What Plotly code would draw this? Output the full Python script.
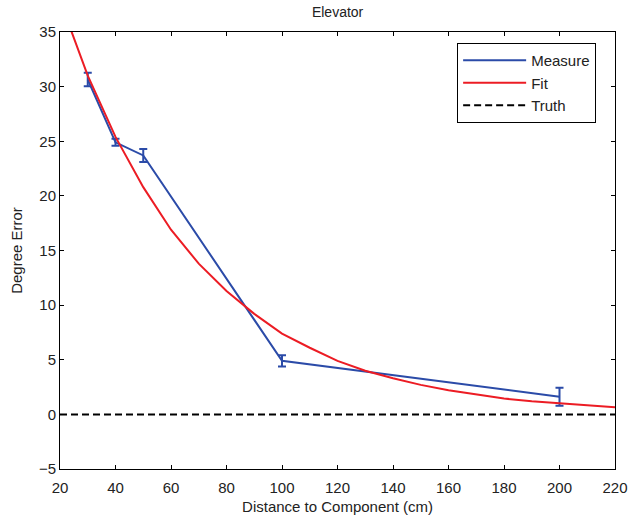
import plotly.graph_objects as go

# Measured angular error at each distance (cm), with error-bar half widths
measure_x = [30, 40, 50, 100, 200]
measure_y = [30.65, 24.9, 23.7, 4.9, 1.62]
measure_err = [0.62, 0.32, 0.6, 0.52, 0.82]

# Fitted decay curve sampled every 10 cm
fit_x = [20, 30, 40, 50, 60, 70, 80, 90, 100, 110, 120, 130, 140, 150,
         160, 170, 180, 190, 200, 210, 220]
fit_y = [37.9, 31.0, 25.4, 20.8, 16.9, 13.8, 11.3, 9.2, 7.4, 6.1, 4.9,
         4.0, 3.3, 2.7, 2.2, 1.8, 1.45, 1.2, 1.0, 0.8, 0.65]

# Ground truth (zero error)
truth_x = [20, 220]
truth_y = [0, 0]

BLUE = "#2B4BA8"
RED = "#EC1C24"
FONT = "Liberation Sans, Arial, sans-serif"
TXT = "#222"

fig = go.Figure()
fig.add_trace(go.Scatter(
    x=measure_x, y=measure_y, mode="lines", name="Measure",
    line=dict(color=BLUE, width=2),
    error_y=dict(type="data", array=measure_err, visible=True,
                 color=BLUE, thickness=2, width=4),
))
fig.add_trace(go.Scatter(
    x=fit_x, y=fit_y, mode="lines", name="Fit",
    line=dict(color=RED, width=2),
))
fig.add_trace(go.Scatter(
    x=truth_x, y=truth_y, mode="lines", name="Truth",
    line=dict(color="black", width=2, dash="7px,4px"),
))

axis_common = dict(
    showgrid=False, zeroline=False, showline=True, linecolor="black",
    linewidth=1, mirror="ticks", ticks="inside", ticklen=4,
    tickcolor="black", automargin=False,
    tickfont=dict(family=FONT, size=15, color=TXT),
)

fig.update_layout(
    width=631, height=519,
    margin=dict(l=60, r=16, t=32, b=50),
    paper_bgcolor="white", plot_bgcolor="white",
    font=dict(family=FONT, color=TXT),
    title=dict(text="Elevator", x=0.535, xanchor="center", y=0.977,
               yanchor="middle", font=dict(family=FONT, size=14, color=TXT)),
    xaxis=dict(range=[20, 220], dtick=20, tick0=20, ticklabelstandoff=5,
               title=dict(text="Distance to Component (cm)", standoff=6,
                          font=dict(family=FONT, size=15, color=TXT)),
               **axis_common),
    yaxis=dict(range=[-5, 35], dtick=5, tick0=-5,
               title=dict(text="Degree Error", standoff=12,
                          font=dict(family=FONT, size=15, color=TXT)),
               **axis_common),
    legend=dict(x=0.966, y=0.975, xanchor="right", yanchor="top",
                bgcolor="white", bordercolor="black", borderwidth=1,
                font=dict(family=FONT, size=15, color=TXT),
                itemwidth=63, tracegroupgap=0),
    showlegend=True,
)

fig.write_html("out.html")
